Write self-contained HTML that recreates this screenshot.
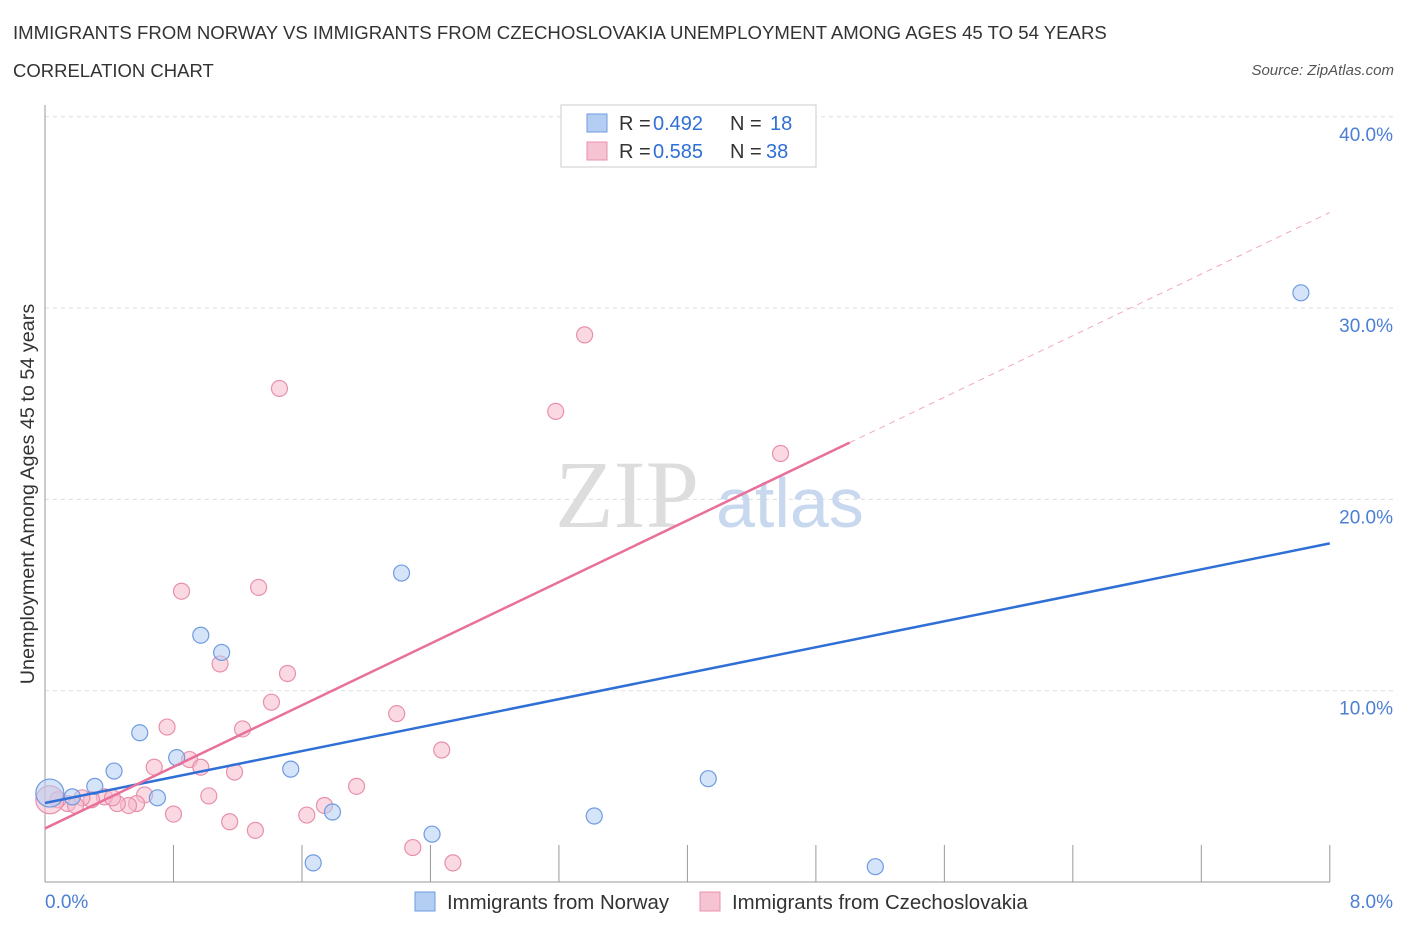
<!DOCTYPE html>
<html><head><meta charset="utf-8"><style>
body{margin:0;background:#fff;font-family:"Liberation Sans",sans-serif;}
#c{position:relative;width:1406px;height:930px;overflow:hidden;}
.t{position:absolute;white-space:nowrap;}
</style></head><body>
<div id="c">
<div class="t" style="left:13px;top:22px;font-size:18.6px;color:#333;">IMMIGRANTS FROM NORWAY VS IMMIGRANTS FROM CZECHOSLOVAKIA UNEMPLOYMENT AMONG AGES 45 TO 54 YEARS</div>
<div class="t" style="left:13px;top:60px;font-size:18.5px;color:#333;">CORRELATION CHART</div>
<div class="t" style="right:12px;top:62px;font-size:15px;color:#555;font-style:italic;">Source: ZipAtlas.com</div>
<svg id="s" width="1406" height="930" style="position:absolute;left:0;top:0"></svg>
</div>
<script>
const xTicks=[0,0.8,1.6,2.4,3.2,4.0,4.8,5.6,6.4,7.2,8.0];
const yTicks=[10,20,30,40];
const yTickLabels=["10.0%","20.0%","30.0%","40.0%"];
const norwayX=[7.82,2.22,0.97,1.10,0.59,0.82,0.43,1.53,0.31,0.70,0.17,0.03,1.79,2.41,3.42,4.13,1.67,5.17];
const norwayY=[30.8,16.15,12.9,12.0,7.8,6.5,5.8,5.9,5.0,4.4,4.45,4.65,3.66,2.5,3.45,5.4,1.0,0.8];
const czX=[3.36,1.46,3.18,4.58,0.85,1.33,1.09,1.51,1.41,0.76,1.23,2.19,2.47,0.68,0.90,0.97,1.18,1.94,1.02,0.62,0.80,1.74,1.63,1.15,1.31,2.29,2.54,0.57,0.52,0.45,0.37,0.29,0.23,0.14,0.08,0.03,0.42,0.19];
const czY=[28.6,25.8,24.6,22.4,15.2,15.4,11.4,10.9,9.4,8.1,8.0,8.8,6.9,6.0,6.4,6.0,5.75,5.0,4.5,4.55,3.55,4.0,3.5,3.15,2.7,1.8,1.0,4.1,4.0,4.1,4.45,4.3,4.4,4.1,4.3,4.3,4.4,4.0];
const norwayTrend=[4.13,17.7];
const czTrend=[2.8,35.0];
const czSolidEnd=5.01;
const X=v=>45+v*160.6, Y=v=>882-v*19.13;
const s=document.getElementById('s'),NS='http://www.w3.org/2000/svg';
function mk(t,a,p){const e=document.createElementNS(NS,t);for(const k in a)e.setAttribute(k,a[k]);(p||s).appendChild(e);return e;}
yTicks.forEach((v,i)=>{
 const g=mk('line',{x1:45,x2:1393,y1:Y(v),y2:Y(v),stroke:'#ddd','stroke-dasharray':'4,4'});
 
 
 const t=mk('text',{x:1393,y:Y(v)+24,'text-anchor':'end','font-size':19,fill:'#4a7fd4'});
 t.textContent=yTickLabels[i];
 
 
});
const ax=mk('line',{x1:45,x2:45,y1:105,y2:882,stroke:'#999'});


const bx=mk('line',{x1:45,x2:1330,y1:882,y2:882,stroke:'#999'});


xTicks.forEach(v=>{const l=mk('line',{x1:X(v),x2:X(v),y1:845,y2:882,stroke:'#999'});
 
 });
[['0.0%',45,'start'],['8.0%',1393,'end']].forEach(a=>{const t=mk('text',{x:a[1],y:908,'text-anchor':a[2],'font-size':19,fill:'#4a7fd4'});t.textContent=a[0];
 
 });
const yl=mk('text',{transform:'translate(34,494) rotate(-90)','text-anchor':'middle','font-size':19.8,fill:'#333'});
yl.textContent='Unemployment Among Ages 45 to 54 years';


const w=mk('text',{x:555,y:527,'font-size':96,fill:'#ddd','font-family':'Liberation Serif'});w.textContent='ZIP';


const w2=mk('text',{x:716,y:527,'font-size':70,fill:'#c8d8ef'});w2.textContent='atlas';


function pts(xs,ys,fill,stroke,name){xs.forEach((x,i)=>{const big=x<0.05;const c=mk('circle',{cx:X(x),cy:Y(ys[i]),r:big?14:8,fill:fill,stroke:stroke,'stroke-width':1.2,'fill-opacity':0.55});
 
 });}
pts(czX,czY,'#f6b9cc','#e890ab','czech-point');
pts(norwayX,norwayY,'#b3cdf3','#6f9be0','norway-point');
const nl=mk('line',{x1:X(0),y1:Y(norwayTrend[0]),x2:X(8),y2:Y(norwayTrend[1]),stroke:'#2f6fd6','stroke-width':2.5});


const cs=(czTrend[1]-czTrend[0])/8;
const cl=mk('line',{x1:X(0),y1:Y(czTrend[0]),x2:X(czSolidEnd),y2:Y(czTrend[0]+cs*czSolidEnd),stroke:'#e8709a','stroke-width':2.5});


const cd=mk('line',{x1:X(czSolidEnd),y1:Y(czTrend[0]+cs*czSolidEnd),x2:X(8),y2:Y(czTrend[1]),stroke:'#f0a8c0','stroke-width':1,'stroke-dasharray':'6,5'});


const lg=mk('rect',{x:561,y:105,width:255,height:62,fill:'#fff',stroke:'#ccc'});


[['#b3cdf3','#6f9be0','0.492','18',123,770],['#f6c3d3','#e890ab','0.585','38',151,766]].forEach(r=>{
 const b=mk('rect',{x:587,y:r[4]-9,width:20,height:18,fill:r[0],stroke:r[1]});
 
 
 [['R =',619,'#333'],[r[2],653,'#2f6fd6'],['N =',730,'#333'],[r[3],r[5],'#2f6fd6']].forEach(p=>{
  const t=mk('text',{x:p[1],y:r[4]+7,'font-size':20,fill:p[2]});t.textContent=p[0];
  
  
 });
});
[['#b3cdf3','#6f9be0','Immigrants from Norway',415],['#f6c3d3','#e890ab','Immigrants from Czechoslovakia',700]].forEach(r=>{
 const b=mk('rect',{x:r[3],y:892,width:20,height:19,fill:r[0],stroke:r[1]});
 
 
 const t=mk('text',{x:r[3]+32,y:909,'font-size':20.4,fill:'#333'});t.textContent=r[2];
 
 
});
</script>
</body></html>
